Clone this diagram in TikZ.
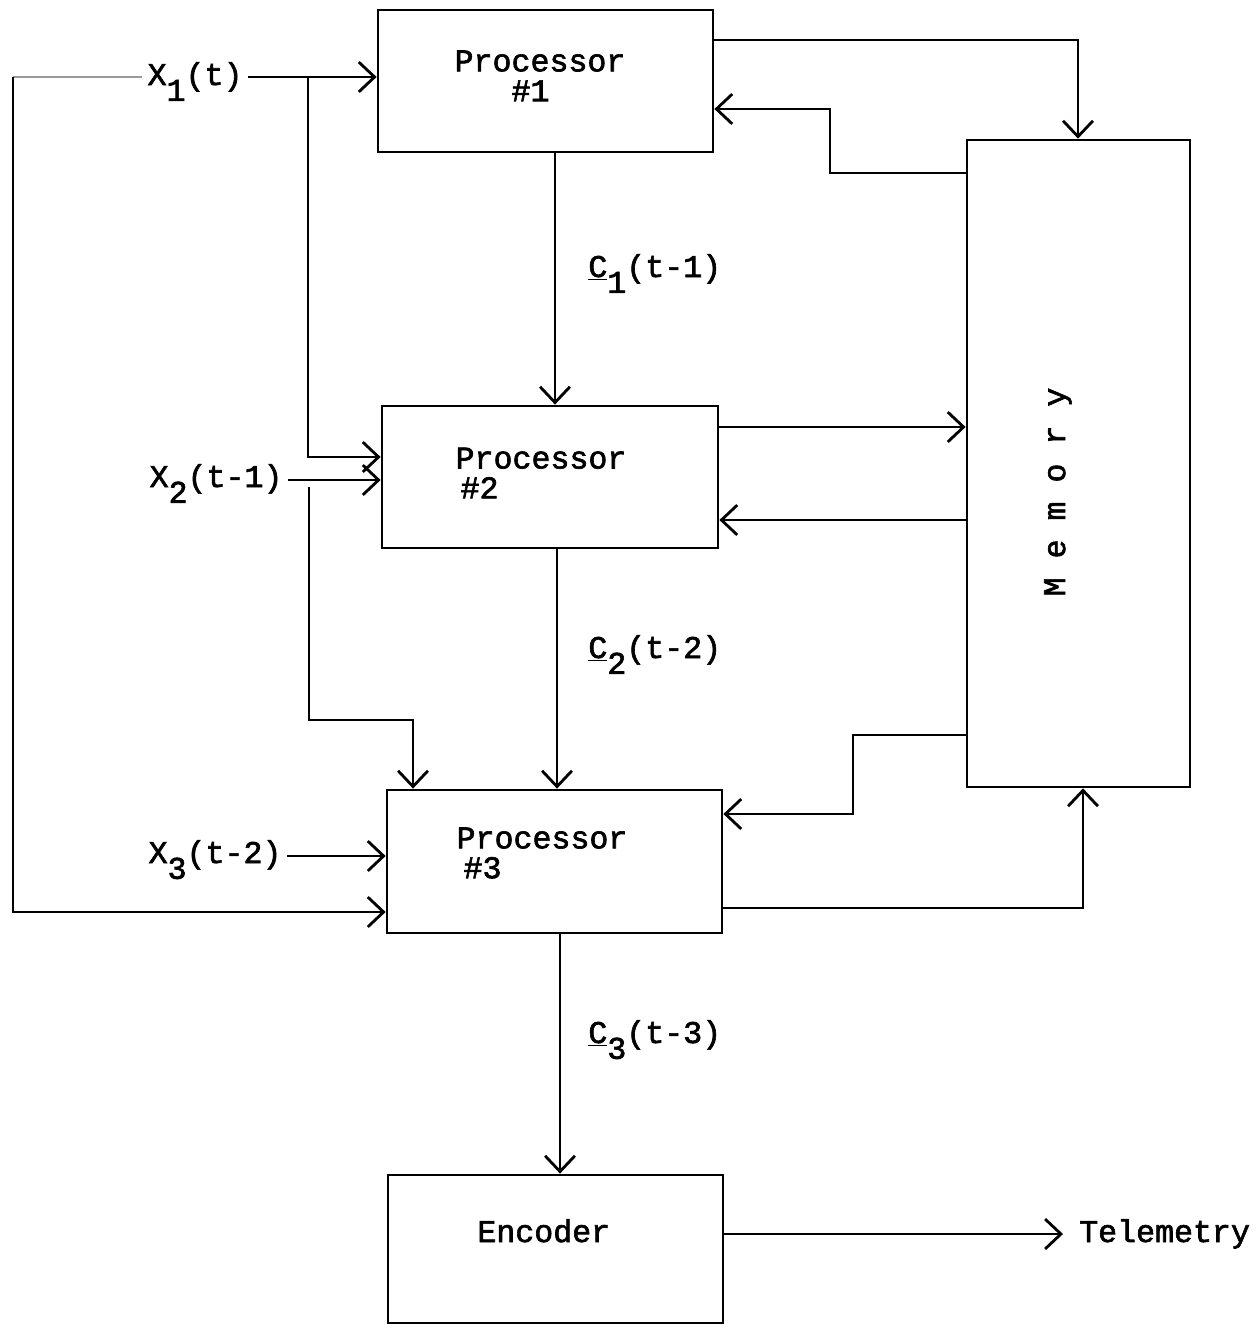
\documentclass[tikz,border=0pt]{standalone}
\usepackage{fontspec}
\setmonofont{Liberation Mono}[FakeBold=2]
\usetikzlibrary{arrows.meta}
\newcommand\lowr[1]{\raisebox{-0.5em}{#1}}
\begin{document}
\begin{tikzpicture}[x=0.02cm,y=-0.02cm,
  line/.style={line width=1.6pt},
  arr/.style={line width=1.6pt, -{Straight Barb[length=9pt,width=17pt,line width=1.6pt]}},
  box/.style={draw, line width=1.6pt, inner sep=0pt},
  txt/.style={font=\ttfamily\fontsize{18}{17}\selectfont, inner sep=0pt, anchor=base west},
  ptxt/.style={txt, align=left, anchor=center},
  lbl/.style={txt, inner xsep=3pt},
]
\useasboundingbox (0,0) rectangle (1256,1325);

% boxes
\node[box, minimum width=6.70cm, minimum height=2.84cm] (p1) at (545.5,81) {};
\node[box, minimum width=6.72cm, minimum height=2.84cm] (p2) at (550,477) {};
\node[box, minimum width=6.70cm, minimum height=2.86cm] (p3) at (554.5,861.5) {};
\node[box, minimum width=6.70cm, minimum height=2.96cm] (enc) at (555.5,1249) {};
\node[box, minimum width=4.46cm, minimum height=12.94cm] (mem) at (1078.5,463.5) {};

% box texts
\node[ptxt] (p1t) at (540,76) {Processor\\\phantom{Pro}\#1};
\node[ptxt] (p2t) at (541,473) {Processor\\\hspace*{0.1cm}\#2};
\node[ptxt] (p3t) at (542,853) {Processor\\\hspace*{0.14cm}\#3};
\node[txt] (enct) at (477,1242) {Encoder};
\node[txt, anchor=center, rotate=90] (memt) at (1058,492) {M e m o r y};

% labels
\node[lbl] (x1) at (142,85) {X\lowr{1}(t)};
\node[lbl] (x2) at (144,487) {X\lowr{2}(t-1)};
\node[lbl] (x3) at (143,863) {X\lowr{3}(t-2)};
\node[txt] (c1) at (588,277) {\underline{C}\lowr{1}(t-1)};
\node[txt] (c2) at (588,658) {\underline{C}\lowr{2}(t-2)};
\node[txt] (c3) at (588,1043) {\underline{C}\lowr{3}(t-3)};
\node[txt, inner xsep=9pt] (tel) at (1063,1242) {Telemetry};

% coordinates
\coordinate (j1) at (308,77);
\coordinate (j2) at (308,457);
\coordinate (j3) at (309,487);
\coordinate (j4) at (309,720);
\coordinate (j5) at (413,720);
\coordinate (l1) at (13,77);
\coordinate (l2) at (13,912);
\coordinate (h2) at (300,480);
\coordinate (h3) at (300,856);
\coordinate (ht) at (900,1234);
\coordinate (k1) at (555,300);
\coordinate (k2) at (557,650);
\coordinate (k3) at (560,1050);
\coordinate (t1) at (1078,40);
\coordinate (m1) at (830,173);
\coordinate (m2) at (830,109);
\coordinate (a2) at (840,427);
\coordinate (b2) at (840,520);
\coordinate (m3) at (853,735);
\coordinate (m4) at (853,814);
\coordinate (m5) at (1083,908);

% inputs
\draw[arr] (x1.east |- l1) -- (p1.west |- l1);
\draw[line, black!40] (x1.west |- l1) -- (l1);
\draw[arr] (l1) -- (l2) -- (p3.west |- l2);
\draw[arr] (j1) -- (j2) -- (p2.west |- j2);
\draw[arr] (j3) -- (j4) -- (j5) -- (j5 |- p3.north);
\draw[arr] (x2.east |- h2) -- (p2.west |- h2);
\draw[arr] (x3.east |- h3) -- (p3.west |- h3);

% chain
\draw[arr] (p1.south -| k1) -- (p2.north -| k1);
\draw[arr] (p2.south -| k2) -- (p3.north -| k2);
\draw[arr] (p3.south -| k3) -- (enc.north -| k3);
\draw[arr] (enc.east |- ht) -- (tel.west |- ht);

% memory
\draw[arr] (p1.east |- t1) -- (t1) -- (t1 |- mem.north);
\draw[arr] (mem.west |- m1) -- (m1) -- (m2) -- (p1.east |- m2);
\draw[arr] (p2.east |- a2) -- (mem.west |- a2);
\draw[arr] (mem.west |- b2) -- (p2.east |- b2);
\draw[arr] (mem.west |- m3) -- (m3) -- (m4) -- (p3.east |- m4);
\draw[arr] (p3.east |- m5) -- (m5) -- (m5 |- mem.south);
\end{tikzpicture}
\end{document}
